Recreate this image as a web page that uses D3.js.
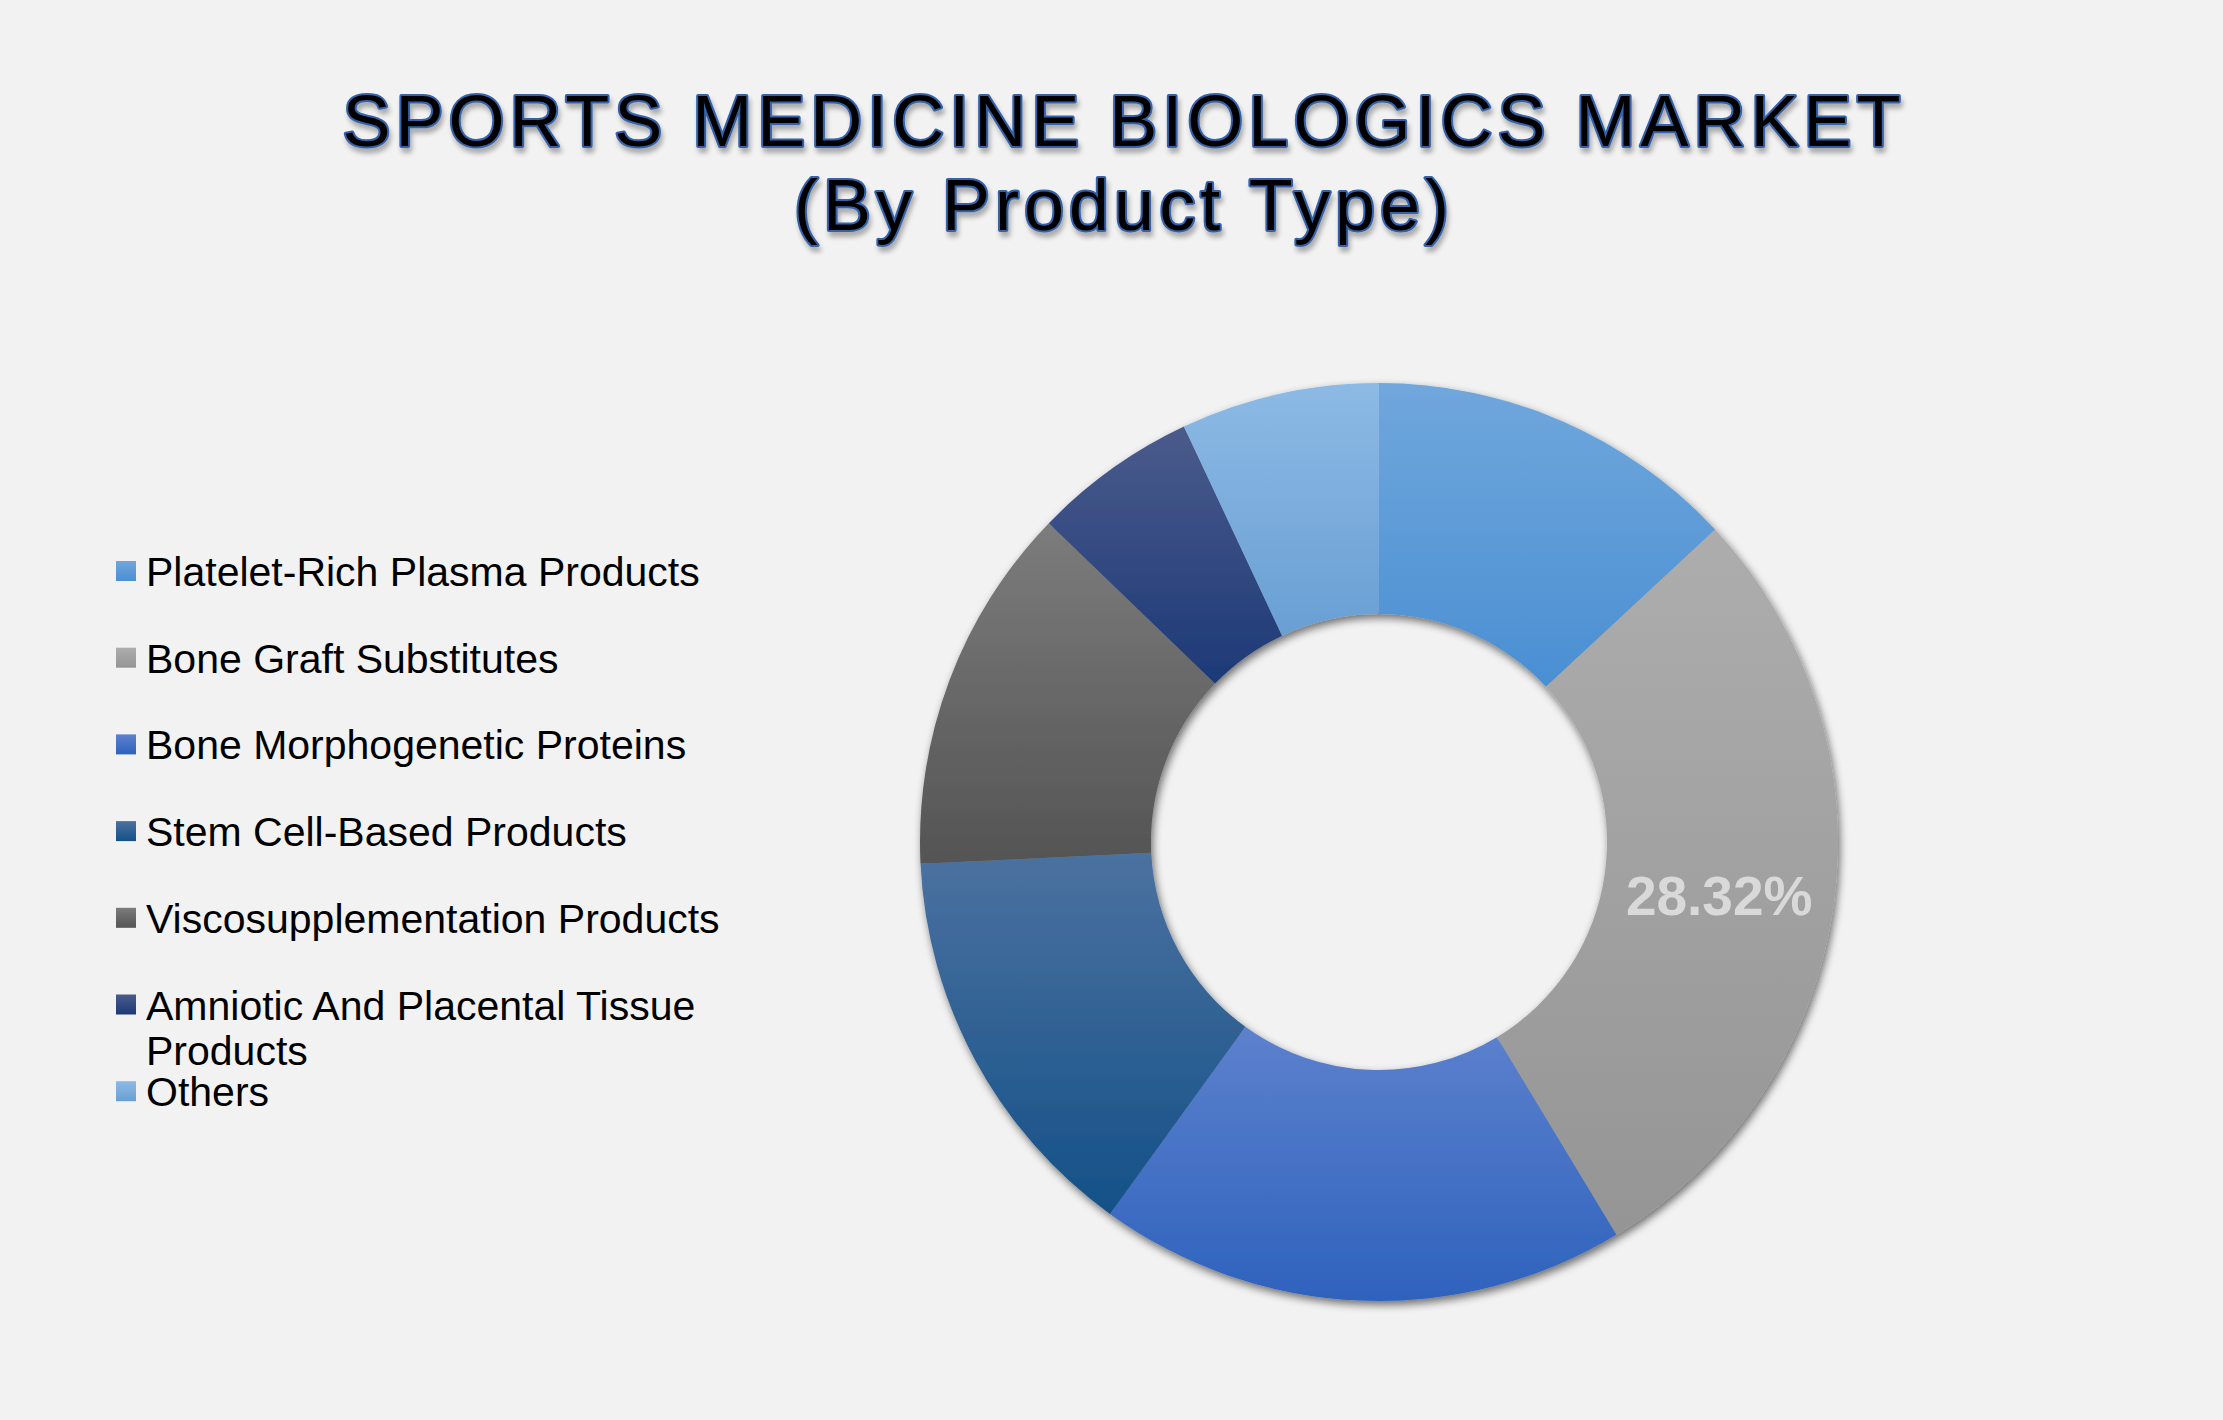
<!DOCTYPE html>
<html>
<head>
<meta charset="utf-8">
<script src="https://cdn.jsdelivr.net/npm/d3@7/dist/d3.min.js"></script>
<style>
  html, body { margin: 0; padding: 0; background: #f2f2f2; }
  svg { display: block; }
</style>
</head>
<body>
<div id="chart"></div>
<script>
// ---- Data ----
const titleLines = ["SPORTS MEDICINE BIOLOGICS MARKET", "(By Product Type)"];
const categories = [
  "Platelet-Rich Plasma Products",
  "Bone Graft Substitutes",
  "Bone Morphogenetic Proteins",
  "Stem Cell-Based Products",
  "Viscosupplementation Products",
  "Amniotic And Placental Tissue Products",
  "Others"
];
const values = [13.1, 28.32, 18.65, 14.3, 13.0, 5.8, 7.0];
const labeledIndices = [1];

// ---- Styles ----
const topColors    = ["#70a7dc", "#adadad", "#5d81cd", "#4b72a0", "#7c7c7c", "#4b5b8b", "#8dbae5"];
const bottomColors = ["#4a8fd3", "#959595", "#2e62bd", "#145087", "#545454", "#1c3977", "#699fd4"];

const W = 2223, H = 1420;
const svg = d3.select("#chart").append("svg")
  .attr("width", W).attr("height", H)
  .attr("viewBox", `0 0 ${W} ${H}`);

svg.append("rect").attr("width", W).attr("height", H).attr("fill", "#f2f2f2");

const defs = svg.append("defs");

// gradients
categories.forEach((c, i) => {
  const g = defs.append("linearGradient").attr("id", "grad" + i)
    .attr("x1", 0).attr("y1", 0).attr("x2", 0).attr("y2", 1);
  g.append("stop").attr("offset", "0%").attr("stop-color", topColors[i]);
  g.append("stop").attr("offset", "100%").attr("stop-color", bottomColors[i]);
});

// donut shadow
const sh = defs.append("filter").attr("id", "donutShadow")
  .attr("x", "-10%").attr("y", "-10%").attr("width", "120%").attr("height", "120%");
sh.append("feGaussianBlur").attr("in", "SourceAlpha").attr("stdDeviation", 4).attr("result", "b");
sh.append("feOffset").attr("in", "b").attr("dx", 2).attr("dy", 4).attr("result", "o");
sh.append("feComponentTransfer").attr("in", "o").attr("result", "s")
  .append("feFuncA").attr("type", "linear").attr("slope", 0.55);
const m1 = sh.append("feMerge");
m1.append("feMergeNode").attr("in", "s");
m1.append("feMergeNode").attr("in", "SourceGraphic");

// title shadow
const ts = defs.append("filter").attr("id", "titleShadow")
  .attr("x", "-5%").attr("y", "-30%").attr("width", "110%").attr("height", "160%");
ts.append("feGaussianBlur").attr("in", "SourceAlpha").attr("stdDeviation", 2.5).attr("result", "b");
ts.append("feOffset").attr("in", "b").attr("dx", 2).attr("dy", 5).attr("result", "o");
ts.append("feComponentTransfer").attr("in", "o").attr("result", "s")
  .append("feFuncA").attr("type", "linear").attr("slope", 0.3);
const m2 = ts.append("feMerge");
m2.append("feMergeNode").attr("in", "s");
m2.append("feMergeNode").attr("in", "SourceGraphic");

// ---- Title ----
const titleG = svg.append("g").attr("filter", "url(#titleShadow)");
titleG.selectAll("text").data(titleLines).join("text")
  .attr("x", 1124)
  .attr("y", (d, i) => 146 + i * 84)
  .attr("text-anchor", "middle")
  .attr("font-family", "'Liberation Sans', Arial, sans-serif")
  .attr("font-size", 72)
  .attr("letter-spacing", 5)
  .attr("fill", "#000")
  .attr("stroke", "#3462aa")
  .attr("stroke-width", 4)
  .attr("stroke-linejoin", "round")
  .attr("paint-order", "stroke")
  .text(d => d);

// ---- Donut ----
const cx = 1379, cy = 842, R = 459, r = 228;
const pie = d3.pie().sort(null).value(d => d).startAngle(0).endAngle(2 * Math.PI);
const arcs = pie(values);
const arc = d3.arc().innerRadius(r).outerRadius(R);

const donut = svg.append("g").attr("transform", `translate(${cx},${cy})`);
const slices = donut.append("g").attr("filter", "url(#donutShadow)");
slices.selectAll("path").data(arcs).join("path")
  .attr("d", arc)
  .attr("fill", (d, i) => `url(#grad${i})`);

const labelArc = d3.arc().innerRadius((R + r) / 2).outerRadius((R + r) / 2);
donut.selectAll("text.lbl").data(arcs.filter((d, i) => labeledIndices.includes(i))).join("text")
  .attr("class", "lbl")
  .attr("x", d => labelArc.centroid(d)[0])
  .attr("y", d => labelArc.centroid(d)[1] + 25)
  .attr("text-anchor", "middle")
  .attr("font-family", "'Liberation Sans', Arial, sans-serif")
  .attr("font-weight", "bold")
  .attr("font-size", 55)
  .attr("fill", "#d9d9d9")
  .text(d => d3.format(".2f")(d.data) + "%");

// ---- Legend ----
const legX = 116, legY = 571, legStep = 86.7, fs = 41, lineH = 45, maxW = 600;
const leg = svg.append("g");
const items = leg.selectAll("g").data(categories).join("g")
  .attr("transform", (d, i) => `translate(${legX},${legY + i * legStep})`);
items.append("rect")
  .attr("x", 0).attr("y", -10).attr("width", 20).attr("height", 20)
  .attr("fill", (d, i) => `url(#grad${i})`);
items.each(function(d) {
  const g = d3.select(this);
  const t = g.append("text")
    .attr("x", 30).attr("y", 15)
    .attr("font-family", "'Liberation Sans', Arial, sans-serif")
    .attr("font-size", fs)
    .attr("fill", "#000");
  const words = d.split(" ");
  let line = [];
  let ts = t.append("tspan").attr("x", 30).attr("dy", 0);
  words.forEach(w => {
    line.push(w);
    ts.text(line.join(" "));
    if (ts.node().getComputedTextLength() > maxW && line.length > 1) {
      line.pop();
      ts.text(line.join(" "));
      line = [w];
      ts = t.append("tspan").attr("x", 30).attr("dy", lineH).text(w);
    }
  });
});
</script>
</body>
</html>
